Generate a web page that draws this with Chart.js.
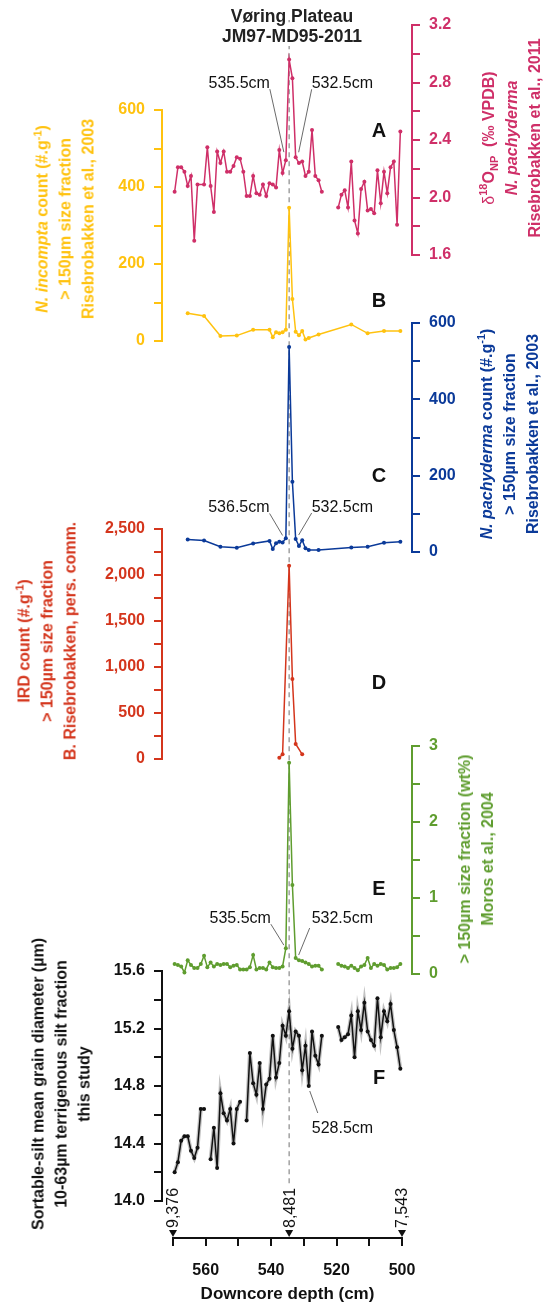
<!DOCTYPE html>
<html>
<head>
<meta charset="utf-8">
<script src="https://cdn.jsdelivr.net/npm/chart.js@4.4.1/dist/chart.umd.min.js"></script>
<style>
html, body { margin: 0; padding: 0; background: #fff; }
#wrap { position: relative; width: 548px; height: 1305px; overflow: hidden; font-family: "Liberation Sans", Arial, sans-serif; }
#wrap canvas { position: absolute; left: 0; top: 0; }
.yt { position: absolute; transform: translate(-50%, -50%) rotate(-90deg); white-space: nowrap; text-align: center; font-weight: bold; font-size: 16px; line-height: 23px; }
.yt sup, .yt sub { font-size: 11px; line-height: 0; }
.letter { position: absolute; transform: translate(-50%, -50%); font-weight: bold; font-size: 20px; color: #111; }
.head { position: absolute; left: 292px; top: 6px; transform: translateX(-50%); text-align: center; font-weight: bold; font-size: 17.5px; line-height: 20px; color: #222; white-space: nowrap; }
.head span { background: #fff; }
</style>
</head>
<body>
<div id="wrap">
  <canvas id="base" width="548" height="1305"></canvas>
  <canvas id="pA" width="548" height="1305"></canvas>
  <canvas id="pB" width="548" height="1305"></canvas>
  <canvas id="pC" width="548" height="1305"></canvas>
  <canvas id="pD" width="548" height="1305"></canvas>
  <canvas id="pE" width="548" height="1305"></canvas>
  <canvas id="pF" width="548" height="1305"></canvas>

  <div class="head">Vøring Plateau<br><span>JM97-MD95-2011</span></div>

  <div class="yt" style="left:511px;top:138px;color:#CF2F68"><span style="font-weight:normal">δ</span><sup>18</sup>O<sub>NP</sub>&nbsp; (‰ VPDB)<br><i>N. pachyderma</i><br>Risebrobakken et al., 2011</div>
  <div class="yt" style="left:65px;top:219px;color:#FFC20F"><i>N. incompta</i> count (#.g<sup>-1</sup>)<br>&gt; 150µm size fraction<br>Risebrobakken et al., 2003</div>
  <div class="yt" style="left:509px;top:434px;color:#0B3A99"><i>N. pachyderma</i> count (#.g<sup>-1</sup>)<br>&gt; 150µm size fraction<br>Risebrobakken et al., 2003</div>
  <div class="yt" style="left:47px;top:641px;color:#D4351C">IRD count (#.g<sup>-1</sup>)<br>&gt; 150µm size fraction<br>B. Risebrobakken, pers. comm.</div>
  <div class="yt" style="left:476px;top:859px;color:#5F9D2F">&gt; 150µm size fraction (wt%)<br>Moros et al., 2004</div>
  <div class="yt" style="left:61px;top:1084px;color:#111">Sortable-silt mean grain diameter (µm)<br>10-63µm terrigenous silt fraction<br>this study</div>

  <div class="letter" style="left:379px;top:130px">A</div>
  <div class="letter" style="left:379px;top:300px">B</div>
  <div class="letter" style="left:379px;top:475px">C</div>
  <div class="letter" style="left:379px;top:682px">D</div>
  <div class="letter" style="left:379px;top:888px">E</div>
  <div class="letter" style="left:379px;top:1077px">F</div>
</div>
<script>
// ---- data (depth in cm) ----
const aDepth = [569.5, 568.5, 567.5, 566.5, 565.5, 564.5, 563.5, 562.5, 560.5, 559.5, 558.5, 557.5, 556.5, 555.5, 554.5, 553.5, 552.5, 551.5, 550.5, 549.5, 548.5, 547.5, 546.5, 545.5, 544.5, 543.5, 542.5, 541.5, 540.5, 539.5, 538.5, 537.5, 536.5, 535.5, 534.5, 533.5, 532.5, 531.5, 530.5, 529.5, 528.5, 527.5, 526.5, 525.5, 524.5, 522, 519.5, 518.5, 517.5, 516.5, 515.5, 514.5, 513.5, 512.5, 511.5, 510.5, 509.5, 508.5, 507.5, 506.5, 505.5, 504.5, 503.5, 502.5, 501.5, 500.5];
const aD18O = [2.04, 2.21, 2.21, 2.18, 2.08, 2.15, 1.70, 2.09, 2.09, 2.35, 2.08, 1.90, 2.32, 2.24, 2.32, 2.18, 2.18, 2.22, 2.28, 2.27, 2.18, 2.01, 2.01, 2.15, 2.03, 2.02, 2.09, 2.01, 2.10, 2.09, 2.07, 2.33, 2.17, 2.26, 2.96, 2.83, 2.28, 2.24, 2.25, 2.15, 2.18, 2.47, 2.15, 2.12, 2.04, null, 1.93, 2.02, 2.05, 1.93, 2.25, 1.84, 1.75, 2.06, 2.11, 1.91, 1.92, 1.89, 2.19, 1.96, 2.18, 2.03, 2.21, 2.25, 1.81, 2.46];

const countDepth = [565.5, 560.5, 555.5, 550.5, 545.5, 540.5, 539.5, 538.5, 537.5, 536.5, 535.5, 534.5, 533.5, 532.5, 531.5, 530.5, 529.5, 528.5, 525.5, 515.5, 510.5, 505.5, 500.5];
const incompta = [72, 65, 13, 14, 29, 29, 10, 23, 20, 23, 29, 346, 109, 24, 15, 26, 4, 8, 17, 43, 20, 26, 26];
const pachyderma = [33, 30, 14, 11, 22, 29, 8, 23, 27, 25, 36, 537, 184, 34, 16, 31, 10, 5, 5, 12, 14, 24, 27];

const irdDepth = [537.5, 536.5, 534.5, 533.5, 532.5, 530.5];
const irdCount = [14, 51, 2100, 870, 163, 51];

const sandDepth = [569.5, 568.5, 567.5, 566.5, 565.5, 564.5, 563.5, 562.5, 561.5, 560.5, 559.5, 558.5, 557.5, 556.5, 555.5, 554.5, 553.5, 552.5, 551.5, 550.5, 549.5, 548.5, 547.5, 546.5, 545.5, 544.5, 543.5, 542.5, 541.5, 540.5, 539.5, 538.5, 537.5, 536.5, 535.5, 534.5, 533.5, 532.5, 531.5, 530.5, 529.5, 528.5, 527.5, 526.5, 525.5, 524.5, 522, 519.5, 518.5, 517.5, 516.5, 515.5, 514.5, 513.5, 512.5, 511.5, 510.5, 509.5, 508.5, 507.5, 506.5, 505.5, 504.5, 503.5, 502.5, 501.5, 500.5];
const sandWt = [0.13, 0.12, 0.10, 0.02, 0.18, 0.12, 0.08, 0.08, 0.13, 0.24, 0.09, 0.15, 0.10, 0.13, 0.12, 0.13, 0.13, 0.09, 0.11, 0.12, 0.06, 0.06, 0.06, 0.09, 0.25, 0.06, 0.08, 0.08, 0.06, 0.15, 0.09, 0.08, 0.08, 0.10, 0.34, 2.78, 1.17, 0.21, 0.18, 0.17, 0.15, 0.13, 0.10, 0.11, 0.11, 0.06, null, 0.13, 0.11, 0.10, 0.08, 0.11, 0.08, 0.05, 0.10, 0.12, 0.21, 0.08, 0.13, 0.11, 0.13, 0.12, 0.06, 0.08, 0.08, 0.09, 0.13];

const ssDepth = [569.5, 568.5, 567.5, 566.5, 565.5, 564.5, 563.5, 562.5, 561.5, 560.5, 559.5, 558.5, 557.5, 556.5, 555.5, 554.5, 553.5, 552.5, 551.5, 550.5, 549.5, 548.5, 547.5, 546.5, 545.5, 544.5, 543.5, 542.5, 541.5, 540.5, 539.5, 538.5, 537.5, 536.5, 535.5, 534.5, 533.5, 532.5, 531.5, 530.5, 529.5, 528.5, 527.5, 526.5, 525.5, 524.5, 522, 519.5, 518.5, 517.5, 516.5, 515.5, 514.5, 513.5, 512.5, 511.5, 510.5, 509.5, 508.5, 507.5, 506.5, 505.5, 504.5, 503.5, 502.5, 501.5, 500.5];
const ssMean = [14.20, 14.27, 14.42, 14.45, 14.45, 14.35, 14.30, 14.37, 14.64, 14.64, null, 14.29, 14.51, 14.23, 14.75, 14.61, 14.56, 14.64, 14.40, 14.64, 14.69, null, 14.56, 15.03, 14.82, 14.74, 14.96, 14.64, 14.81, 14.85, 15.15, 14.86, 14.96, 15.22, 15.15, 15.32, 15.06, 15.18, 15.15, 14.91, 15.08, 14.80, 15.18, 15.01, 14.95, 15.15, null, 15.21, 15.12, 15.14, 15.16, 15.29, 15.00, 15.32, 15.19, 15.38, 15.18, 15.12, 15.08, 15.41, 15.14, 15.32, 15.25, 15.37, 15.19, 15.07, 14.92];

const ageDepth = [570, 534.5, 500];
const ageLabels = ['9,376', '8,481', '7,543'];
const eventDepth = 534.5;

// ---- layout ----
const W = 548, H = 1305;
const AX_L = 162, AX_R = 412, AXW = 60;
const X_HI = 573.36, X_LO = 496.94;
const FONT = "'Liberation Sans', Arial, sans-serif";
Chart.defaults.font.family = FONT;

function pts(xs, ys) { return xs.map((x, i) => ({ x: x, y: ys[i] })); }

const notesPlugin = {
  id: 'notes',
  afterDatasetsDraw(chart, args, opts) {
    const ctx = chart.ctx, xs = chart.scales.x, ys = chart.scales.y;
    (opts.items || []).forEach(n => {
      const px = xs.getPixelForValue(n.depth), py = ys.getPixelForValue(n.value);
      ctx.save();
      ctx.strokeStyle = '#444';
      ctx.lineWidth = 0.8;
      ctx.beginPath();
      ctx.moveTo(px + n.lead[0], py + n.lead[1]);
      ctx.lineTo(px + n.lead[2], py + n.lead[3]);
      ctx.stroke();
      ctx.fillStyle = '#111';
      ctx.font = '16px ' + FONT;
      ctx.textAlign = n.align;
      ctx.textBaseline = 'alphabetic';
      ctx.fillText(n.text, px + n.tx, py + n.ty);
      ctx.restore();
    });
  }
};

function panel(id, o) {
  const left = o.side === 'left';
  return new Chart(document.getElementById(id), {
    type: 'line',
    data: { datasets: o.datasets },
    options: {
      responsive: false,
      animation: false,
      events: [],
      layout: { padding: {
        left: left ? AX_L - AXW : AX_L,
        right: left ? W - AX_R : W - AX_R - AXW,
        top: o.top, bottom: H - o.bottom } },
      plugins: { legend: { display: false }, tooltip: { enabled: false }, notes: { items: o.notes || [] } },
      scales: {
        x: { type: 'linear', reverse: true, min: X_LO, max: X_HI, display: false },
        y: {
          type: 'linear', position: o.side, min: o.min, max: o.max,
          afterFit: s => { s.width = AXW; },
          ticks: { stepSize: o.step, color: o.color, font: { size: 16, weight: 'bold' }, padding: 9, callback: o.fmt },
          grid: { drawOnChartArea: false, color: o.color, lineWidth: 2, tickLength: 8 },
          border: { color: o.color, width: 2 }
        }
      }
    },
    plugins: [notesPlugin]
  });
}

function lineSet(data, color) {
  return { data: data, borderColor: color, backgroundColor: color, borderWidth: 1.5,
    pointRadius: 2, pointBorderWidth: 0, pointBackgroundColor: color, spanGaps: false, clip: false, order: 0 };
}

const fmt1 = v => (Math.round(v * 10) % 4 === 0 ? v.toFixed(1) : '');

// ---- base: depth axis, event line, age markers ----
const ageMarks = {
  id: 'ageMarks',
  afterDraw(chart) {
    const ctx = chart.ctx, xs = chart.scales.x, yb = chart.chartArea.bottom;
    ctx.save();
    ageDepth.forEach((d, i) => {
      const x = xs.getPixelForValue(d);
      ctx.fillStyle = '#111';
      ctx.beginPath();
      ctx.moveTo(x - 4, yb - 8);
      ctx.lineTo(x + 4, yb - 8);
      ctx.lineTo(x, yb - 1);
      ctx.closePath();
      ctx.fill();
      ctx.save();
      ctx.translate(x, yb - 10);
      ctx.rotate(-Math.PI / 2);
      ctx.font = '16px ' + FONT;
      ctx.textAlign = 'left';
      ctx.textBaseline = 'middle';
      ctx.fillText(ageLabels[i], 0, 1);
      ctx.restore();
    });
    ctx.restore();
  }
};

new Chart(document.getElementById('base'), {
  type: 'line',
  data: { datasets: [{
    data: [{ x: eventDepth, y: 0.045 }, { x: eventDepth, y: 1 }],
    borderColor: '#8a8a8a', borderWidth: 1.2, borderDash: [5, 4], pointRadius: 0
  }] },
  options: {
    responsive: false, animation: false, events: [],
    layout: { padding: { left: 173, right: W - 402, top: 20, bottom: 0 } },
    plugins: { legend: { display: false }, tooltip: { enabled: false } },
    scales: {
      x: {
        type: 'linear', reverse: true, min: 500, max: 570, position: 'bottom',
        afterFit: s => { s.height = H - 1238; },
        ticks: { stepSize: 10, autoSkip: false, maxRotation: 0, color: '#111', padding: 15,
          font: { size: 16, weight: 'bold' }, callback: v => (v % 20 === 0 ? v : '') },
        grid: { drawOnChartArea: false, color: '#111', lineWidth: 2, tickLength: 8 },
        border: { color: '#111', width: 2 },
        title: { display: true, text: 'Downcore depth (cm)', color: '#111',
          font: { size: 17, weight: 'bold' }, padding: { top: 2, bottom: 0 } }
      },
      y: { type: 'linear', min: 0, max: 1, display: false }
    }
  },
  plugins: [ageMarks]
});

// ---- panels ----
panel('pA', {
  side: 'right', min: 1.6, max: 3.2, step: 0.2, top: 25, bottom: 255, color: '#CF2F68', fmt: fmt1,
  datasets: [lineSet(pts(aDepth, aD18O), '#CF2F68')],
  notes: [
    { depth: 535.5, value: 2.26, text: '535.5cm', lead: [-2, -8, -16, -71], tx: -16, ty: -72, align: 'right' },
    { depth: 532.5, value: 2.28, text: '532.5cm', lead: [3, -5, 16, -68], tx: 16, ty: -69, align: 'left' }
  ]
});

panel('pB', {
  side: 'left', min: 0, max: 600, step: 100, top: 110, bottom: 341, color: '#FFC20F',
  fmt: v => (v % 200 === 0 ? v : ''),
  datasets: [lineSet(pts(countDepth, incompta), '#FFC20F')]
});

panel('pC', {
  side: 'right', min: 0, max: 600, step: 100, top: 323, bottom: 552, color: '#0B3A99',
  fmt: v => (v % 200 === 0 ? v : ''),
  datasets: [lineSet(pts(countDepth, pachyderma), '#0B3A99')],
  notes: [
    { depth: 536.5, value: 25, text: '536.5cm', lead: [0, -7, -13, -29], tx: -13, ty: -30, align: 'right' },
    { depth: 532.5, value: 34, text: '532.5cm', lead: [3, -4, 16, -26], tx: 16, ty: -27, align: 'left' }
  ]
});

panel('pD', {
  side: 'left', min: 0, max: 2500, step: 250, top: 529, bottom: 759, color: '#D4351C',
  fmt: v => (v % 500 === 0 ? v.toLocaleString('en-US') : ''),
  datasets: [lineSet(pts(irdDepth, irdCount), '#D4351C')]
});

panel('pE', {
  side: 'right', min: 0, max: 3, step: 0.5, top: 746, bottom: 974, color: '#5F9D2F',
  fmt: v => (v % 1 === 0 ? v : ''),
  datasets: [lineSet(pts(sandDepth, sandWt), '#5F9D2F')],
  notes: [
    { depth: 535.5, value: 0.34, text: '535.5cm', lead: [-2, -3, -15, -24], tx: -15, ty: -25, align: 'right' },
    { depth: 532.5, value: 0.21, text: '532.5cm', lead: [3, -3, 14, -30], tx: 16, ty: -35, align: 'left' }
  ]
});

const ssLine = lineSet(pts(ssDepth, ssMean), '#111');
const ssBand = { data: pts(ssDepth, ssMean), borderColor: 'rgba(120,120,120,0.45)', borderWidth: 4,
  pointRadius: 0, spanGaps: false, clip: false, order: 1 };

panel('pF', {
  side: 'left', min: 14.0, max: 15.6, step: 0.2, top: 971, bottom: 1201, color: '#111', fmt: fmt1,
  datasets: [ssLine, ssBand],
  notes: [
    { depth: 528.5, value: 14.80, text: '528.5cm', lead: [1, 5, 9, 27], tx: 3, ty: 47, align: 'left' }
  ]
});
</script>
</body>
</html>
